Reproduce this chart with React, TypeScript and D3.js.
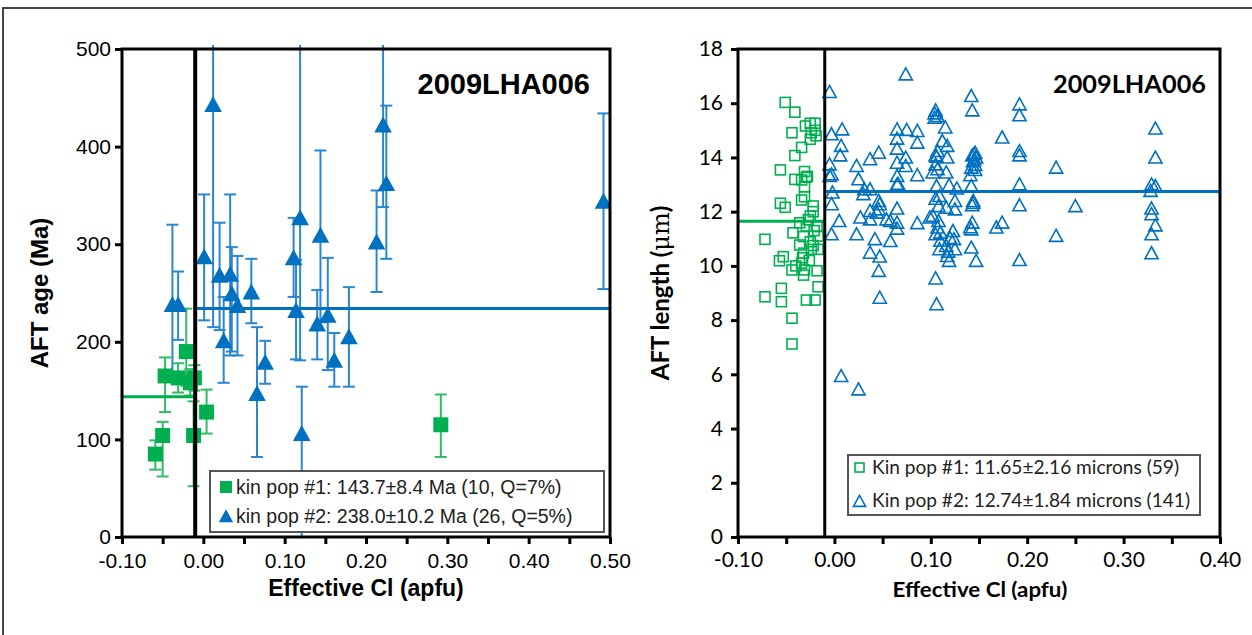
import React, { useRef, useEffect } from 'react';
import * as d3 from 'd3';

// Left panel: AFT age vs effective Cl -> [Cl, age, lower, upper]
const kin1Age = [
  [-0.059, 85, 69, 99], [-0.050, 104, 62, 118], [-0.047, 165, 128, 184],
  [-0.031, 163, 148, 178], [-0.021, 190, 155, 234], [-0.016, 158, 145, 172],
  [-0.011, 163, 150, 176], [-0.012, 104, 52, 139], [0.004, 128, 106, 151],
  [0.292, 115, 82, 146],
];
const kin2Age = [
  [-0.038, 237, 165, 320], [-0.031, 237, 202, 272], [0.001, 286, 222, 351],
  [0.012, 442, 215, 560], [0.020, 267, 212, 322], [0.025, 200, 158, 246],
  [0.033, 268, 186, 351], [0.035, 248, 190, 297], [0.042, 236, 186, 288],
  [0.059, 250, 219, 285], [0.066, 146, 82, 215], [0.076, 178, 157, 201],
  [0.111, 285, 246, 327], [0.119, 326, 181, 560], [0.121, 105, -50, 154],
  [0.114, 231, 182, 284], [0.144, 308, 220, 396], [0.140, 217, 182, 253],
  [0.153, 226, 171, 286], [0.161, 180, 154, 209], [0.179, 204, 154, 256],
  [0.213, 301, 251, 355], [0.225, 361, 285, 442], [0.221, 421, 338, 560],
  [0.492, 343, 254, 434],
];
const ageMeans = [143.7, 234];
const ageTicksY = [0, 100, 200, 300, 400, 500];
const ageTicksX = [-0.1, -0.05, 0, 0.05, 0.1, 0.15, 0.2, 0.25, 0.3, 0.35, 0.4, 0.45, 0.5];
const ageLegend = [
  'kin pop #1: 143.7±8.4 Ma (10, Q=7%)',
  'kin pop #2: 238.0±10.2 Ma (26, Q=5%)',
];

// Right panel: track length vs effective Cl -> [Cl, length]
const kin1Len = [
  [-0.051, 16.03], [-0.041, 15.67], [-0.044, 14.91], [-0.030, 15.16], [-0.025, 15.26],
  [-0.020, 15.26], [-0.024, 14.91], [-0.025, 14.67], [-0.034, 14.37], [-0.041, 14.07],
  [-0.056, 13.54], [-0.041, 13.19], [-0.031, 13.48], [-0.029, 13.27], [-0.031, 12.92],
  [-0.034, 13.17], [-0.056, 12.31], [-0.051, 12.16], [-0.034, 12.43], [-0.031, 12.55],
  [-0.022, 12.21], [-0.025, 11.84], [-0.036, 11.59], [-0.029, 11.47], [-0.072, 10.98],
  [-0.043, 11.22], [-0.018, 11.45], [-0.017, 11.10], [-0.032, 11.08], [-0.025, 10.89],
  [-0.036, 10.77], [-0.024, 10.61], [-0.017, 10.61], [-0.032, 10.47], [-0.053, 10.34],
  [-0.057, 10.19], [-0.034, 10.10], [-0.044, 9.85], [-0.031, 9.85], [-0.018, 9.82],
  [-0.032, 9.66], [-0.055, 9.17], [-0.017, 9.23], [-0.072, 8.86], [-0.055, 8.68],
  [-0.029, 8.74], [-0.020, 8.74], [-0.044, 8.07], [-0.044, 7.12],
  [-0.020, 15.0], [-0.019, 14.8], [-0.028, 13.3], [-0.022, 12.0], [-0.027, 11.7],
  [-0.021, 11.3], [-0.033, 10.3], [-0.026, 10.2], [-0.040, 10.0], [-0.022, 10.75],
];
const kin2Len = [
  [-0.005, 16.39], [-0.003, 14.83], [0.008, 15.01], [0.007, 14.40], [0.006, 14.05],
  [-0.005, 13.72], [-0.003, 13.35], [-0.005, 13.29], [-0.002, 12.68], [-0.003, 12.25],
  [0.005, 11.63], [-0.003, 11.14], [0.023, 13.66], [0.025, 13.17], [0.037, 13.91],
  [0.046, 14.15], [0.030, 12.62], [0.037, 12.80], [0.046, 12.37], [0.047, 12.25],
  [0.046, 12.06], [0.027, 11.76], [0.037, 11.69], [0.023, 11.14], [0.037, 12.00],
  [0.042, 10.96], [0.054, 11.69], [0.037, 10.46], [0.047, 10.32], [0.046, 9.79],
  [0.047, 8.80], [0.007, 5.91], [0.025, 5.42],
  [0.074, 17.04], [0.142, 16.24], [0.143, 15.71], [0.192, 15.93], [0.192, 15.53],
  [0.105, 15.71], [0.107, 15.50], [0.104, 15.44], [0.115, 15.08], [0.065, 15.01],
  [0.075, 14.99], [0.086, 14.95], [0.174, 14.71], [0.065, 14.67], [0.086, 14.52],
  [0.112, 14.58], [0.117, 14.40], [0.065, 14.30], [0.107, 14.21], [0.105, 14.05],
  [0.117, 13.97], [0.143, 14.05], [0.146, 14.15], [0.147, 13.97], [0.144, 13.84],
  [0.192, 14.21], [0.192, 14.05], [0.074, 13.97], [0.065, 13.78], [0.074, 13.66],
  [0.105, 13.72], [0.107, 13.54], [0.102, 13.42], [0.116, 13.42], [0.086, 13.32],
  [0.065, 13.29], [0.142, 13.60], [0.146, 13.51], [0.141, 13.32], [0.230, 13.60],
  [0.065, 12.98], [0.119, 12.95], [0.127, 12.83], [0.106, 12.92], [0.142, 12.92],
  [0.192, 12.98], [0.031, 12.80], [0.044, 11.94], [0.065, 12.09], [0.109, 12.55],
  [0.108, 12.18], [0.125, 12.37], [0.116, 12.12], [0.125, 12.06], [0.144, 12.37],
  [0.143, 12.21], [0.192, 12.21], [0.058, 11.63], [0.065, 11.57], [0.086, 11.55],
  [0.102, 11.82], [0.108, 11.63], [0.099, 11.76], [0.143, 11.57], [0.142, 11.32],
  [0.168, 11.39], [0.174, 11.57], [0.065, 11.35], [0.107, 11.39], [0.105, 11.14],
  [0.110, 11.20], [0.123, 11.26], [0.124, 10.96], [0.058, 10.89], [0.230, 11.08],
  [0.109, 10.59], [0.116, 10.71], [0.125, 10.59], [0.117, 10.34], [0.119, 10.16],
  [0.142, 10.65], [0.147, 10.16], [0.192, 10.19], [0.105, 9.51], [0.106, 8.56],
  [0.250, 12.18], [0.333, 15.04], [0.333, 13.97], [0.329, 12.98], [0.333, 12.92],
  [0.328, 12.74], [0.329, 12.09], [0.329, 11.88], [0.333, 11.47], [0.329, 11.14],
  [0.329, 10.44], [0.104, 15.60], [0.106, 14.00], [0.145, 14.10], [0.145, 13.90],
  [0.146, 13.70], [0.120, 11.00], [0.110, 10.90], [0.144, 12.30], [0.066, 13.00],
  [0.105, 12.45], [0.141, 11.40], [0.118, 10.50],
];
const lenMeans = [11.65, 12.74];
const lenTicksY = [0, 2, 4, 6, 8, 10, 12, 14, 16, 18];
const lenTicksX = [-0.1, -0.05, 0, 0.05, 0.1, 0.15, 0.2, 0.25, 0.3, 0.35, 0.4];
const lenLegend = [
  'Kin pop #1: 11.65±2.16 microns (59)',
  'Kin pop #2: 12.74±1.84 microns (141)',
];
const splitCl = -0.01;

const GREEN = '#00b050';
const BLUE = '#0070c0';
const ARIAL = '"Liberation Sans", Arial, sans-serif';
const CALIBRI = 'Lato, "Open Sans", sans-serif';

const tri = (s: number) => `M0,${-s * 0.6}L${s * 0.55},${s * 0.4}L${-s * 0.55},${s * 0.4}Z`;

const App = () => {
  const svgRef = useRef<SVGSVGElement>(null);

  useEffect(() => {
    const svg = d3.select(svgRef.current);
    svg.selectAll('*').remove();

    // outer frame
    svg.append('path').attr('d', 'M3,640V8H1256').attr('fill', 'none')
      .attr('stroke', '#444').attr('stroke-width', 2);

    const panel = (opts: any) => {
      const { left, right, top, bottom, xDom, yDom, xTicks, yTicks, font, id } = opts;
      const x = d3.scaleLinear().domain(xDom).range([left, right]);
      const y = d3.scaleLinear().domain(yDom).range([bottom, top]);
      const g = svg.append('g');
      g.append('clipPath').attr('id', id).append('rect')
        .attr('x', left).attr('y', top - 4).attr('width', right - left).attr('height', bottom - top + 4);

      // axes
      const ya = g.append('g').attr('transform', `translate(${left},0)`)
        .call(d3.axisLeft(y).tickValues(yTicks).tickSize(7).tickPadding(opts.yPad).tickFormat(d3.format('d')));
      const xa = g.append('g').attr('transform', `translate(0,${bottom})`)
        .call(d3.axisBottom(x).tickValues(xTicks).tickSize(7).tickPadding(opts.xPad)
          .tickFormat((d: any, i: number) => (i % 2 === 0 ? (+d).toFixed(2) : '')));
      [ya, xa].forEach((a) => {
        a.select('.domain').remove();
        a.selectAll('line').attr('stroke', '#000').attr('stroke-width', 3);
        a.selectAll('text').attr('font-family', font).attr('font-size', opts.tickFs).attr('fill', '#000');
      });

      const data = g.append('g').attr('clip-path', `url(#${id})`);
      return { x, y, g, data };
    };

    // ---------- Left: age ----------
    const L = panel({
      left: 122, right: 610, top: 49, bottom: 537, xDom: [-0.1, 0.5], yDom: [0, 500],
      xTicks: ageTicksX, yTicks: ageTicksY, font: ARIAL, id: 'clipA', tickFs: 21, yPad: 4, xPad: 9,
    });
    const drawErr = (sel: any, rows: number[][], color: string) => {
      rows.forEach(([cx, v, lo, hi]) => {
        const px = L.x(cx);
        sel.append('line').attr('x1', px).attr('x2', px).attr('y1', L.y(lo)).attr('y2', L.y(hi))
          .attr('stroke', color).attr('stroke-width', 2);
        [lo, hi].forEach((e) => {
          sel.append('line').attr('x1', px - 6).attr('x2', px + 6).attr('y1', L.y(e)).attr('y2', L.y(e))
            .attr('stroke', color).attr('stroke-width', 2);
        });
      });
    };
    drawErr(L.data, kin2Age, '#2a86d1');
    drawErr(L.data, kin1Age, '#2ebd63');
    L.data.append('line').attr('x1', L.x(-0.1)).attr('x2', L.x(splitCl))
      .attr('y1', L.y(ageMeans[0])).attr('y2', L.y(ageMeans[0])).attr('stroke', GREEN).attr('stroke-width', 3);
    L.data.append('line').attr('x1', L.x(splitCl)).attr('x2', L.x(0.5))
      .attr('y1', L.y(ageMeans[1])).attr('y2', L.y(ageMeans[1])).attr('stroke', BLUE).attr('stroke-width', 3);
    L.data.selectAll('.sq').data(kin1Age).join('rect')
      .attr('x', (d: number[]) => L.x(d[0]) - 7.5).attr('y', (d: number[]) => L.y(d[1]) - 7.5)
      .attr('width', 15).attr('height', 15).attr('fill', GREEN);
    L.data.selectAll('.tr').data(kin2Age).join('path')
      .attr('transform', (d: number[]) => `translate(${L.x(d[0])},${L.y(d[1])})`)
      .attr('d', tri(16)).attr('fill', BLUE);
    L.g.append('line').attr('x1', L.x(splitCl)).attr('x2', L.x(splitCl)).attr('y1', 49).attr('y2', 537)
      .attr('stroke', '#000').attr('stroke-width', 4);
    L.g.append('rect').attr('x', 122).attr('y', 49).attr('width', 488).attr('height', 488)
      .attr('fill', 'none').attr('stroke', '#000').attr('stroke-width', 3);

    // legend
    const lg = L.g.append('g');
    lg.append('rect').attr('x', 210).attr('y', 471).attr('width', 394).attr('height', 61)
      .attr('fill', '#fff').attr('stroke', '#555').attr('stroke-width', 2);
    lg.append('rect').attr('x', 220).attr('y', 481).attr('width', 12).attr('height', 12).attr('fill', GREEN);
    lg.append('path').attr('transform', 'translate(226,517)').attr('d', tri(13)).attr('fill', BLUE);
    ageLegend.forEach((t, i) => {
      lg.append('text').attr('x', 236).attr('y', 494 + i * 29).text(t)
        .attr('font-family', ARIAL).attr('font-size', 19.5).attr('fill', '#222');
    });
    L.g.append('text').attr('x', 590).attr('y', 94).attr('text-anchor', 'end').text('2009LHA006')
      .attr('font-family', ARIAL).attr('font-weight', 'bold').attr('font-size', 29);
    L.g.append('text').attr('transform', 'translate(48,293) rotate(-90)').attr('text-anchor', 'middle')
      .text('AFT age (Ma)').attr('font-family', ARIAL).attr('font-weight', 'bold').attr('font-size', 24);
    L.g.append('text').attr('x', 366).attr('y', 596).attr('text-anchor', 'middle')
      .text('Effective Cl (apfu)').attr('font-family', ARIAL).attr('font-weight', 'bold').attr('font-size', 23);

    // ---------- Right: length ----------
    const R = panel({
      left: 738, right: 1220, top: 49, bottom: 537, xDom: [-0.1, 0.4], yDom: [0, 18],
      xTicks: lenTicksX, yTicks: lenTicksY, font: CALIBRI, id: 'clipB', tickFs: 21, yPad: 8, xPad: 8,
    });
    R.data.append('line').attr('x1', R.x(-0.1)).attr('x2', R.x(splitCl))
      .attr('y1', R.y(lenMeans[0])).attr('y2', R.y(lenMeans[0])).attr('stroke', GREEN).attr('stroke-width', 3);
    R.data.append('line').attr('x1', R.x(splitCl)).attr('x2', R.x(0.4))
      .attr('y1', R.y(lenMeans[1])).attr('y2', R.y(lenMeans[1])).attr('stroke', BLUE).attr('stroke-width', 3);
    R.data.selectAll('.sq').data(kin1Len).join('rect')
      .attr('x', (d: number[]) => R.x(d[0]) - 5).attr('y', (d: number[]) => R.y(d[1]) - 5)
      .attr('width', 10).attr('height', 10).attr('fill', 'none').attr('stroke', GREEN).attr('stroke-width', 1.6);
    R.data.selectAll('.tr').data(kin2Len).join('path')
      .attr('transform', (d: number[]) => `translate(${R.x(d[0])},${R.y(d[1])})`)
      .attr('d', tri(12)).attr('fill', 'none').attr('stroke', BLUE).attr('stroke-width', 1.6);
    R.g.append('line').attr('x1', R.x(splitCl)).attr('x2', R.x(splitCl)).attr('y1', 49).attr('y2', 537)
      .attr('stroke', '#000').attr('stroke-width', 3);
    R.g.append('rect').attr('x', 738).attr('y', 49).attr('width', 482).attr('height', 488)
      .attr('fill', 'none').attr('stroke', '#000').attr('stroke-width', 3);

    const rg = R.g.append('g');
    rg.append('rect').attr('x', 848).attr('y', 455).attr('width', 352).attr('height', 60)
      .attr('fill', '#fff').attr('stroke', '#555').attr('stroke-width', 2);
    rg.append('rect').attr('x', 855).attr('y', 463).attr('width', 9).attr('height', 9)
      .attr('fill', 'none').attr('stroke', GREEN).attr('stroke-width', 1.6);
    rg.append('path').attr('transform', 'translate(859.5,502)').attr('d', tri(11))
      .attr('fill', 'none').attr('stroke', BLUE).attr('stroke-width', 1.6);
    lenLegend.forEach((t, i) => {
      rg.append('text').attr('x', 872).attr('y', 474 + i * 33).text(t)
        .attr('font-family', CALIBRI).attr('font-size', 19).attr('fill', '#222')
        .attr('textLength', i === 0 ? 307 : 318).attr('lengthAdjust', 'spacingAndGlyphs');
    });
    R.g.append('text').attr('x', 1053).attr('y', 93).text('2009LHA006')
      .attr('font-family', CALIBRI).attr('font-weight', 'bold').attr('font-size', 24)
      .attr('textLength', 153).attr('lengthAdjust', 'spacingAndGlyphs');
    const yl = R.g.append('text').attr('transform', 'translate(669,293) rotate(-90)').attr('text-anchor', 'middle')
      .attr('font-family', CALIBRI).attr('font-weight', 'bold').attr('font-size', 24);
    yl.append('tspan').text('AFT length (');
    yl.append('tspan').attr('font-weight', 'normal').attr('font-family', '"DejaVu Serif", serif').text('μm');
    yl.append('tspan').text(')');
    R.g.append('text').attr('x', 980).attr('y', 597).attr('text-anchor', 'middle')
      .text('Effective Cl (apfu)').attr('font-family', CALIBRI).attr('font-weight', 'bold').attr('font-size', 20)
      .attr('textLength', 175).attr('lengthAdjust', 'spacingAndGlyphs');
  }, []);

  return (
    <svg ref={svgRef} width={1252} height={635}
      style={{ position: 'absolute', left: 0, top: 0, background: '#fff' }} />
  );
};

export default App;
